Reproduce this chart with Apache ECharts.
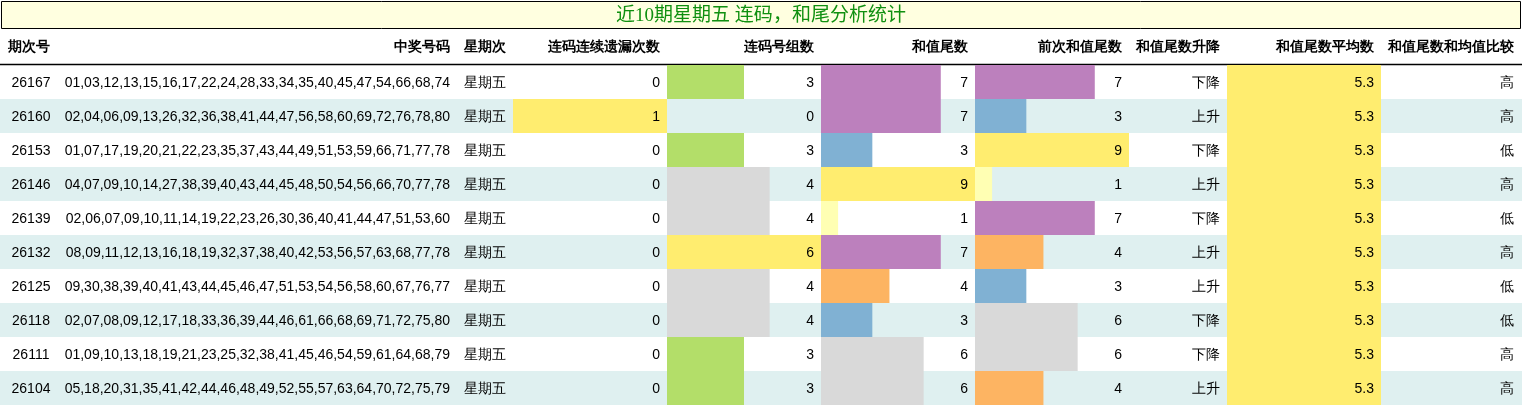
<!DOCTYPE html><html><head><meta charset="utf-8">
<script src="https://cdn.jsdelivr.net/npm/echarts@6/dist/echarts.min.js"></script>
<style>html,body{margin:0;padding:0;background:#fff}#c{width:1522px;height:406px}</style></head><body><div id="c"></div>
<script>
const headers=['期次号','中奖号码','星期次','连码连续遗漏次数','连码号组数','和值尾数','前次和值尾数','和值尾数升降','和值尾数平均数','和值尾数和均值比较'];
const periods=['26167','26160','26153','26146','26139','26132','26125','26118','26111','26104'];
const numbers=['01,03,12,13,15,16,17,22,24,28,33,34,35,40,45,47,54,66,68,74','02,04,06,09,13,26,32,36,38,41,44,47,56,58,60,69,72,76,78,80','01,07,17,19,20,21,22,23,35,37,43,44,49,51,53,59,66,71,77,78','04,07,09,10,14,27,38,39,40,43,44,45,48,50,54,56,66,70,77,78','02,06,07,09,10,11,14,19,22,23,26,30,36,40,41,44,47,51,53,60','08,09,11,12,13,16,18,19,32,37,38,40,42,53,56,57,63,68,77,78','09,30,38,39,40,41,43,44,45,46,47,51,53,54,56,58,60,67,76,77','02,07,08,09,12,17,18,33,36,39,44,46,61,66,68,69,71,72,75,80','01,09,10,13,18,19,21,23,25,32,38,41,45,46,54,59,61,64,68,79','05,18,20,31,35,41,42,44,46,48,49,52,55,57,63,64,70,72,75,79'];
const weekday=['星期五','星期五','星期五','星期五','星期五','星期五','星期五','星期五','星期五','星期五'];
const missCount=[0,1,0,0,0,0,0,0,0,0];
const groupCount=[3,0,3,4,4,6,4,4,3,3];
const sumTail=[7,7,3,9,1,7,4,3,6,6];
const prevSumTail=[7,3,9,1,7,4,3,6,6,4];
const trend=['下降','上升','下降','上升','下降','上升','上升','下降','下降','上升'];
const avgTail=[5.3,5.3,5.3,5.3,5.3,5.3,5.3,5.3,5.3,5.3];
const compare=['高','高','低','高','低','高','低','低','高','高'];
const title='近10期星期五 连码，和尾分析统计';

const F='"Liberation Sans Narrow","Liberation Sans",sans-serif';
const sumColors={1:'#ffffb3',3:'#80b1d3',4:'#fdb462',6:'#d9d9d9',7:'#bc80bd',9:'#ffed6f'};
const grpColors={3:'#b3de69',4:'#d9d9d9',6:'#ffed6f'};
const g=[];
g.push({type:'rect',shape:{x:1.5,y:1.5,width:1519,height:27},style:{fill:'#ffffe0',stroke:'#000',lineWidth:1}});
g.push({type:'text',style:{x:761,y:16,text:title,fill:'#109010',font:'19px "Liberation Serif","Noto Sans CJK SC",serif',align:'center',verticalAlign:'middle'}});
const hy=47;
const hdr=[[8,'left'],[450,'right'],[464,'left'],[660,'right'],[814,'right'],[968,'right'],[1122,'right'],[1220,'right'],[1374,'right'],[1514,'right']];
headers.forEach((h,i)=>g.push({type:'text',style:{x:hdr[i][0],y:hy,text:h,font:'bold 14px '+F,fill:'#000',align:hdr[i][1],verticalAlign:'middle'}}));
g.push({type:'line',shape:{x1:0,y1:64.5,x2:1522,y2:64.5},style:{stroke:'#000',lineWidth:1.5}});
const RH=34,Y0=65,CW=154;
function bar(x,y,w,c){if(w>0&&c)g.push({type:'rect',shape:{x:x,y:y,width:w,height:RH},style:{fill:c}});}
function txt(x,y,t,a){g.push({type:'text',style:{x:x,y:y,text:String(t),font:'14px '+F,fill:'#000',align:a,verticalAlign:'middle'}});}
const maxMiss=Math.max(...missCount),maxGrp=Math.max(...groupCount),maxSum=Math.max(...sumTail,...prevSumTail);
periods.forEach((p,i)=>{
  const y=Y0+i*RH, cy=y+RH/2+1;
  if(i%2===1) g.push({type:'rect',shape:{x:0,y:y,width:1522,height:RH},style:{fill:'#dff0f0'}});
  bar(513,y,missCount[i]/maxMiss*CW,missCount[i]?'#ffed6f':null);
  bar(667,y,groupCount[i]/maxGrp*CW,grpColors[groupCount[i]]);
  bar(821,y,sumTail[i]/maxSum*CW,sumColors[sumTail[i]]);
  bar(975,y,prevSumTail[i]/maxSum*CW,sumColors[prevSumTail[i]]);
  bar(1227,y,CW,'#ffed6f');
  txt(31,cy,p,'center');txt(450,cy,numbers[i],'right');txt(464,cy,weekday[i],'left');
  txt(660,cy,missCount[i],'right');txt(814,cy,groupCount[i],'right');txt(968,cy,sumTail[i],'right');
  txt(1122,cy,prevSumTail[i],'right');txt(1220,cy,trend[i],'right');txt(1374,cy,avgTail[i].toFixed(1),'right');txt(1514,cy,compare[i],'right');
});
const ch=echarts.init(document.getElementById('c'));
ch.setOption({animation:false,graphic:g});
</script></body></html>
